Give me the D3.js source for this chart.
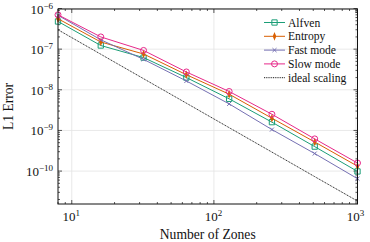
<!DOCTYPE html>
<meta charset="utf-8">
<style>
body { margin: 0; background: #fff; }
</style>
<body>
<script src="https://d3js.org/d3.v7.min.js"></script>
<script>

var width = 370, height = 242;
var margin = {top: 9, right: 12.5, bottom: 38, left: 58};

// data
var zones = [8, 16, 32, 64, 128, 256, 512, 1024];
var alfven  = [4.8e-7, 1.23e-7, 6.2e-8, 2.0e-8, 6.0e-9, 1.6e-9, 4.0e-10, 9.8e-11];
var entropy = [5.6e-7, 1.5e-7, 7.6e-8, 2.35e-8, 7.8e-9, 2.0e-9, 5.2e-10, 1.32e-10];
var fast    = [6.8e-7, 1.7e-7, 5.6e-8, 1.65e-8, 4.5e-9, 1.05e-9, 2.7e-10, 6.5e-11];
var slow    = [7.0e-7, 2.0e-7, 9.3e-8, 2.75e-8, 9.1e-9, 2.5e-9, 6.2e-10, 1.58e-10];
var ideal   = [3.0e-7, 7.5e-8, 1.875e-8, 4.69e-9, 1.17e-9, 2.93e-10, 7.3e-11, 1.83e-11];

var seriesNames = ["Alfven", "Entropy", "Fast mode", "Slow mode", "ideal scaling"];
var seriesColors = ["#1b9e77", "#d95f02", "#7570b3", "#e7298a", "#000"];
var seriesMarkers = ["square", "diamond", "cross", "circle", "none"];
var seriesValues = [alfven, entropy, fast, slow, ideal];

var xTicks = [10, 100, 1000];
var xTickExp = ["1", "2", "3"];
var yTicks = [1e-10, 1e-9, 1e-8, 1e-7, 1e-6];
var yTickExp = ["\u221210", "\u22129", "\u22128", "\u22127", "\u22126"];

var FONT = "'Liberation Serif', 'DejaVu Serif', 'Times New Roman', serif";

var svg = d3.select("body").append("svg")
    .attr("width", width)
    .attr("height", height)
    .attr("font-family", FONT);

var x = d3.scaleLog().domain([8, 1024]).range([margin.left, width - margin.right]);
var y = d3.scaleLog().domain([Math.pow(10, -10.81), Math.pow(10, -6.012)])
    .range([height - margin.bottom, margin.top]);

var x0 = x.range()[0], x1 = x.range()[1], y0 = y.range()[0], y1 = y.range()[1];

// grid
svg.append("g").selectAll("line").data(xTicks).enter().append("line")
  .attr("x1", d => x(d)).attr("x2", d => x(d)).attr("y1", y0).attr("y2", y1)
  .attr("stroke", "#e3e3e3").attr("stroke-width", 0.8);
svg.append("g").selectAll("line").data(yTicks).enter().append("line")
  .attr("y1", d => y(d)).attr("y2", d => y(d)).attr("x1", x0).attr("x2", x1)
  .attr("stroke", "#e3e3e3").attr("stroke-width", 0.8);

// minor ticks
var xMinor = [], yMinor = [];
for (var p = 0; p <= 3; p++) for (var k = 2; k < 10; k++) {
  var v = k * Math.pow(10, p);
  if (v >= 8 && v <= 1024) xMinor.push(v);
}
for (var p = -11; p <= -6; p++) for (var k = 2; k < 10; k++) {
  var v = k * Math.pow(10, p);
  if (v >= y.domain()[0] && v <= y.domain()[1]) yMinor.push(v);
}

var ticks = svg.append("g").attr("stroke", "#111").attr("stroke-width", 0.7);
function vt(list, len) {
  list.forEach(function(d) {
    ticks.append("line").attr("x1", x(d)).attr("x2", x(d)).attr("y1", y0).attr("y2", y0 - len);
    ticks.append("line").attr("x1", x(d)).attr("x2", x(d)).attr("y1", y1).attr("y2", y1 + len);
  });
}
function ht(list, len) {
  list.forEach(function(d) {
    ticks.append("line").attr("y1", y(d)).attr("y2", y(d)).attr("x1", x0).attr("x2", x0 + len);
    ticks.append("line").attr("y1", y(d)).attr("y2", y(d)).attr("x1", x1).attr("x2", x1 - len);
  });
}
vt(xTicks, 4); vt(xMinor, 2);
ht(yTicks, 4); ht(yMinor, 2);

// series
var line = d3.line().x((d, i) => x(zones[i])).y(d => y(d));
var sym = {
  square: d3.symbol().type(d3.symbolSquare).size(28),
  diamond: d3.symbol().type(d3.symbolDiamond).size(10),
  cross: d3.symbol().type(d3.symbolX).size(12),
  circle: d3.symbol().type(d3.symbolCircle).size(28)
};

function drawMarker(g, kind, color, cx, cy) {
  if (kind === "none") return;
  var m = g.append("path").attr("d", sym[kind]())
    .attr("transform", "translate(" + cx + "," + cy + ")" + (kind === "diamond" ? " scale(0.75,1.1)" : ""))
    .attr("stroke", color).attr("stroke-width", 1);
  if (kind === "diamond") m.attr("fill", color);
  else m.attr("fill", "none");
}

var plot = svg.append("g");
seriesValues.forEach(function(vals, s) {
  var g = plot.append("g");
  g.append("path").datum(vals).attr("d", line)
    .attr("fill", "none").attr("stroke", seriesColors[s])
    .attr("stroke-width", s === 4 ? 0.9 : 1)
    .attr("stroke-dasharray", s === 4 ? "1,0.8" : null);
  vals.forEach(function(v, i) {
    drawMarker(g, seriesMarkers[s], seriesColors[s], x(zones[i]), y(v));
  });
});

// frame
svg.append("rect").attr("x", x0).attr("y", y1).attr("width", x1 - x0).attr("height", y0 - y1)
  .attr("fill", "none").attr("stroke", "#111").attr("stroke-width", 1);

// tick labels
xTicks.forEach(function(d, i) {
  var t = svg.append("text").attr("x", x(d) - 0.5).attr("y", y0 + 16.5)
    .attr("text-anchor", "middle").attr("font-size", 13).attr("fill", "#111");
  t.append("tspan").text("10");
  t.append("tspan").attr("font-size", 9).attr("dy", -5).text(xTickExp[i]);
});
yTicks.forEach(function(d, i) {
  var t = svg.append("text").attr("x", x0 - 5).attr("y", y(d) + 5)
    .attr("text-anchor", "end").attr("font-size", 13).attr("fill", "#111");
  t.append("tspan").text("10");
  t.append("tspan").attr("font-size", 9).attr("dy", -5).text(yTickExp[i]);
});

// axis titles
svg.append("text").attr("x", (x0 + x1) / 2).attr("y", 238.5)
  .attr("text-anchor", "middle").attr("font-size", 13.6).attr("fill", "#111").text("Number of Zones");
svg.append("text").attr("transform", "translate(13," + ((y0 + y1) / 2) + ") rotate(-90)")
  .attr("text-anchor", "middle").attr("font-size", 13.6).attr("fill", "#111").text("L1 Error");

// legend
var lg = svg.append("g");
seriesNames.forEach(function(name, s) {
  var ly = 22.5 + s * 13.8;
  lg.append("line").attr("x1", 264).attr("x2", 285).attr("y1", ly).attr("y2", ly)
    .attr("stroke", seriesColors[s]).attr("stroke-width", s === 4 ? 0.9 : 1)
    .attr("stroke-dasharray", s === 4 ? "1,0.8" : null);
  drawMarker(lg, seriesMarkers[s], seriesColors[s], 274.5, ly);
  lg.append("text").attr("x", 288).attr("y", ly + 4).attr("font-size", 11.6).attr("fill", "#111").text(name);
});

</script>
